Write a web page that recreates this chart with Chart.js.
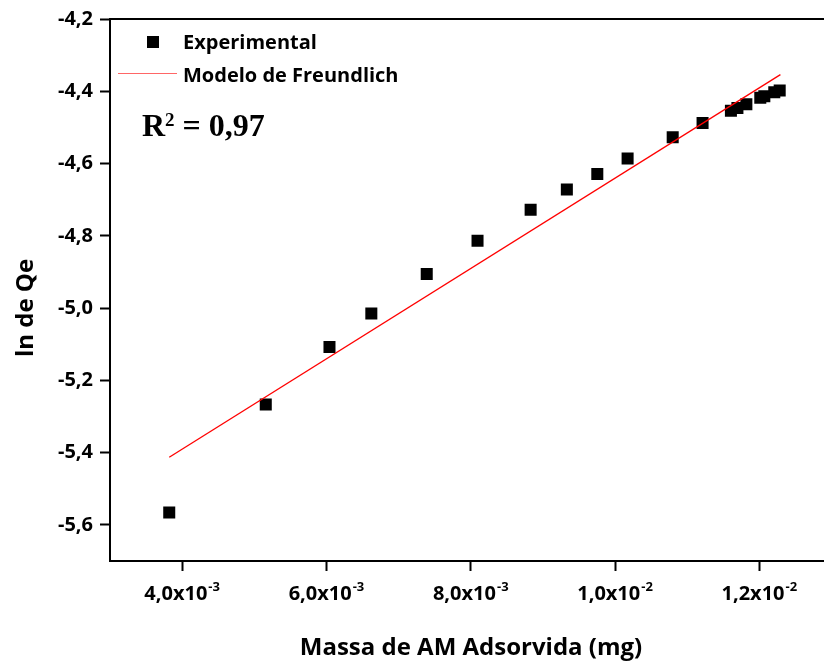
<!DOCTYPE html>
<html>
<head>
<meta charset="utf-8">
<script src="https://cdn.jsdelivr.net/npm/chart.js@4.4.1/dist/chart.umd.min.js"></script>
<style>
  html, body { margin: 0; padding: 0; background: #fff; overflow: hidden; }
  #wrap { width: 840px; height: 663px; }
</style>
</head>
<body>
<div id="wrap"><canvas id="isoterma" width="840" height="663"></canvas></div>
<script>
// pontos experimentais (massa adsorvida em mg, ln Qe)
var massaAds = [0.003821, 0.005159, 0.006042, 0.006622, 0.007390, 0.008094, 0.008830,
                0.009332, 0.009754, 0.010174, 0.010799, 0.011213, 0.011606, 0.011696,
                0.011820, 0.012013, 0.012069, 0.012207, 0.012282];
var lnQe = [-5.566, -5.267, -5.108, -5.015, -4.906, -4.814, -4.728,
            -4.672, -4.629, -4.586, -4.527, -4.488, -4.454, -4.446,
            -4.436, -4.418, -4.414, -4.403, -4.398];

// reta do modelo de Freundlich (extremos)
var fitX = [0.003821, 0.012292];
var fitY = [-5.413, -4.354];

var xTicks = [0.004, 0.006, 0.008, 0.010, 0.012];
var xTickBase = ['4,0x10', '6,0x10', '8,0x10', '1,0x10', '1,2x10'];
var xTickExp = ['-3', '-3', '-3', '-2', '-2'];
var yTicks = [-5.6, -5.4, -5.2, -5.0, -4.8, -4.6, -4.4, -4.2];

var FONTE = '"Open Sans", sans-serif';
var SERIFA = '"Liberation Serif", "Times New Roman", serif';
var VERMELHO = '#ff0000';

function pares(xs, ys) {
    var out = [];
    for (var i = 0; i < xs.length; i++) out.push({x: xs[i], y: ys[i]});
    return out;
}

var decoracao = {
    id: 'decoracao',
    afterDraw: function(chart) {
        var ctx = chart.ctx;
        var area = chart.chartArea;
        var sx = chart.scales.x;
        ctx.save();

        // moldura superior e direita
        ctx.strokeStyle = '#000';
        ctx.lineWidth = 2;
        ctx.beginPath();
        ctx.moveTo(area.left, area.top);
        ctx.lineTo(area.right, area.top);
        ctx.lineTo(area.right, area.bottom);
        ctx.stroke();

        // rotulos do eixo x com expoente
        ctx.fillStyle = '#000';
        ctx.textBaseline = 'alphabetic';
        ctx.textAlign = 'left';
        for (var i = 0; i < xTicks.length; i++) {
            var px = sx.getPixelForValue(xTicks[i]);
            ctx.font = 'bold 20px ' + FONTE;
            var wb = ctx.measureText(xTickBase[i]).width;
            ctx.font = 'bold 13px ' + FONTE;
            var we = ctx.measureText(xTickExp[i]).width;
            var x0 = px - (wb + we + 1) / 2;
            ctx.font = 'bold 20px ' + FONTE;
            ctx.fillText(xTickBase[i], x0, 600);
            ctx.font = 'bold 13px ' + FONTE;
            ctx.fillText(xTickExp[i], x0 + wb + 1, 591);
        }

        // titulos dos eixos
        ctx.font = 'bold 24px ' + FONTE;
        ctx.textAlign = 'center';
        ctx.fillText('Massa de AM Adsorvida (mg)', 471, 655);
        ctx.save();
        ctx.translate(33, 308);
        ctx.rotate(-Math.PI / 2);
        ctx.fillText('ln de Qe', 0, 0);
        ctx.restore();

        // legenda
        var exp = chart.data.datasets[1];
        var mod = chart.data.datasets[0];
        ctx.fillStyle = '#000';
        ctx.fillRect(147, 36, 12, 12);
        ctx.strokeStyle = VERMELHO;
        ctx.globalAlpha = 0.6;
        ctx.lineWidth = 1;
        ctx.beginPath();
        ctx.moveTo(118, 73.5);
        ctx.lineTo(177, 73.5);
        ctx.stroke();
        ctx.globalAlpha = 1;
        ctx.font = 'bold 20px ' + FONTE;
        ctx.textAlign = 'left';
        ctx.fillText(exp.label, 183, 49);
        ctx.fillText(mod.label, 183, 82);

        // coeficiente de determinacao
        ctx.font = 'bold 32px ' + SERIFA;
        ctx.fillText('R', 142, 136);
        var wr = ctx.measureText('R').width;
        ctx.font = 'bold 19px ' + SERIFA;
        ctx.fillText('2', 142 + wr, 126);
        var w2 = ctx.measureText('2').width;
        ctx.font = 'bold 32px ' + SERIFA;
        ctx.fillText(' = 0,97', 142 + wr + w2, 136);

        ctx.restore();
    }
};

var ctx = document.getElementById('isoterma').getContext('2d');
var grafico = new Chart(ctx, {
    type: 'scatter',
    data: {
        datasets: [{
            label: 'Modelo de Freundlich',
            data: pares(fitX, fitY),
            showLine: true,
            borderColor: VERMELHO,
            backgroundColor: VERMELHO,
            borderWidth: 1.3,
            pointRadius: 0,
            order: 0
        }, {
            label: 'Experimental',
            data: pares(massaAds, lnQe),
            pointStyle: 'rect',
            pointRadius: 8.5,
            pointHoverRadius: 8.5,
            backgroundColor: '#000',
            borderWidth: 0,
            order: 1
        }]
    },
    options: {
        responsive: false,
        animation: false,
        devicePixelRatio: 1,
        layout: { padding: { top: 19, right: 5, left: 0, bottom: 0 } },
        plugins: {
            legend: { display: false },
            tooltip: { enabled: false }
        },
        scales: {
            x: {
                type: 'linear',
                min: 0.003,
                max: 0.013,
                afterBuildTicks: function(s) { s.ticks = xTicks.map(function(v){ return {value: v}; }); },
                afterFit: function(s) { s.height = 102; },
                ticks: { display: false },
                grid: { drawOnChartArea: false, drawTicks: true, tickLength: 10, tickColor: '#000', tickWidth: 2 },
                border: { color: '#000', width: 2 }
            },
            y: {
                type: 'linear',
                min: -5.7,
                max: -4.2,
                afterBuildTicks: function(s) { s.ticks = yTicks.map(function(v){ return {value: v}; }); },
                afterFit: function(s) { s.width = 110; },
                ticks: {
                    color: '#000',
                    padding: 7,
                    font: { family: FONTE, weight: 'bold', size: 20 },
                    callback: function(v) { return v.toFixed(1).replace('.', ','); }
                },
                grid: { drawOnChartArea: false, drawTicks: true, tickLength: 10, tickColor: '#000', tickWidth: 2 },
                border: { color: '#000', width: 2 }
            }
        }
    },
    plugins: [decoracao]
});
</script>
</body>
</html>
